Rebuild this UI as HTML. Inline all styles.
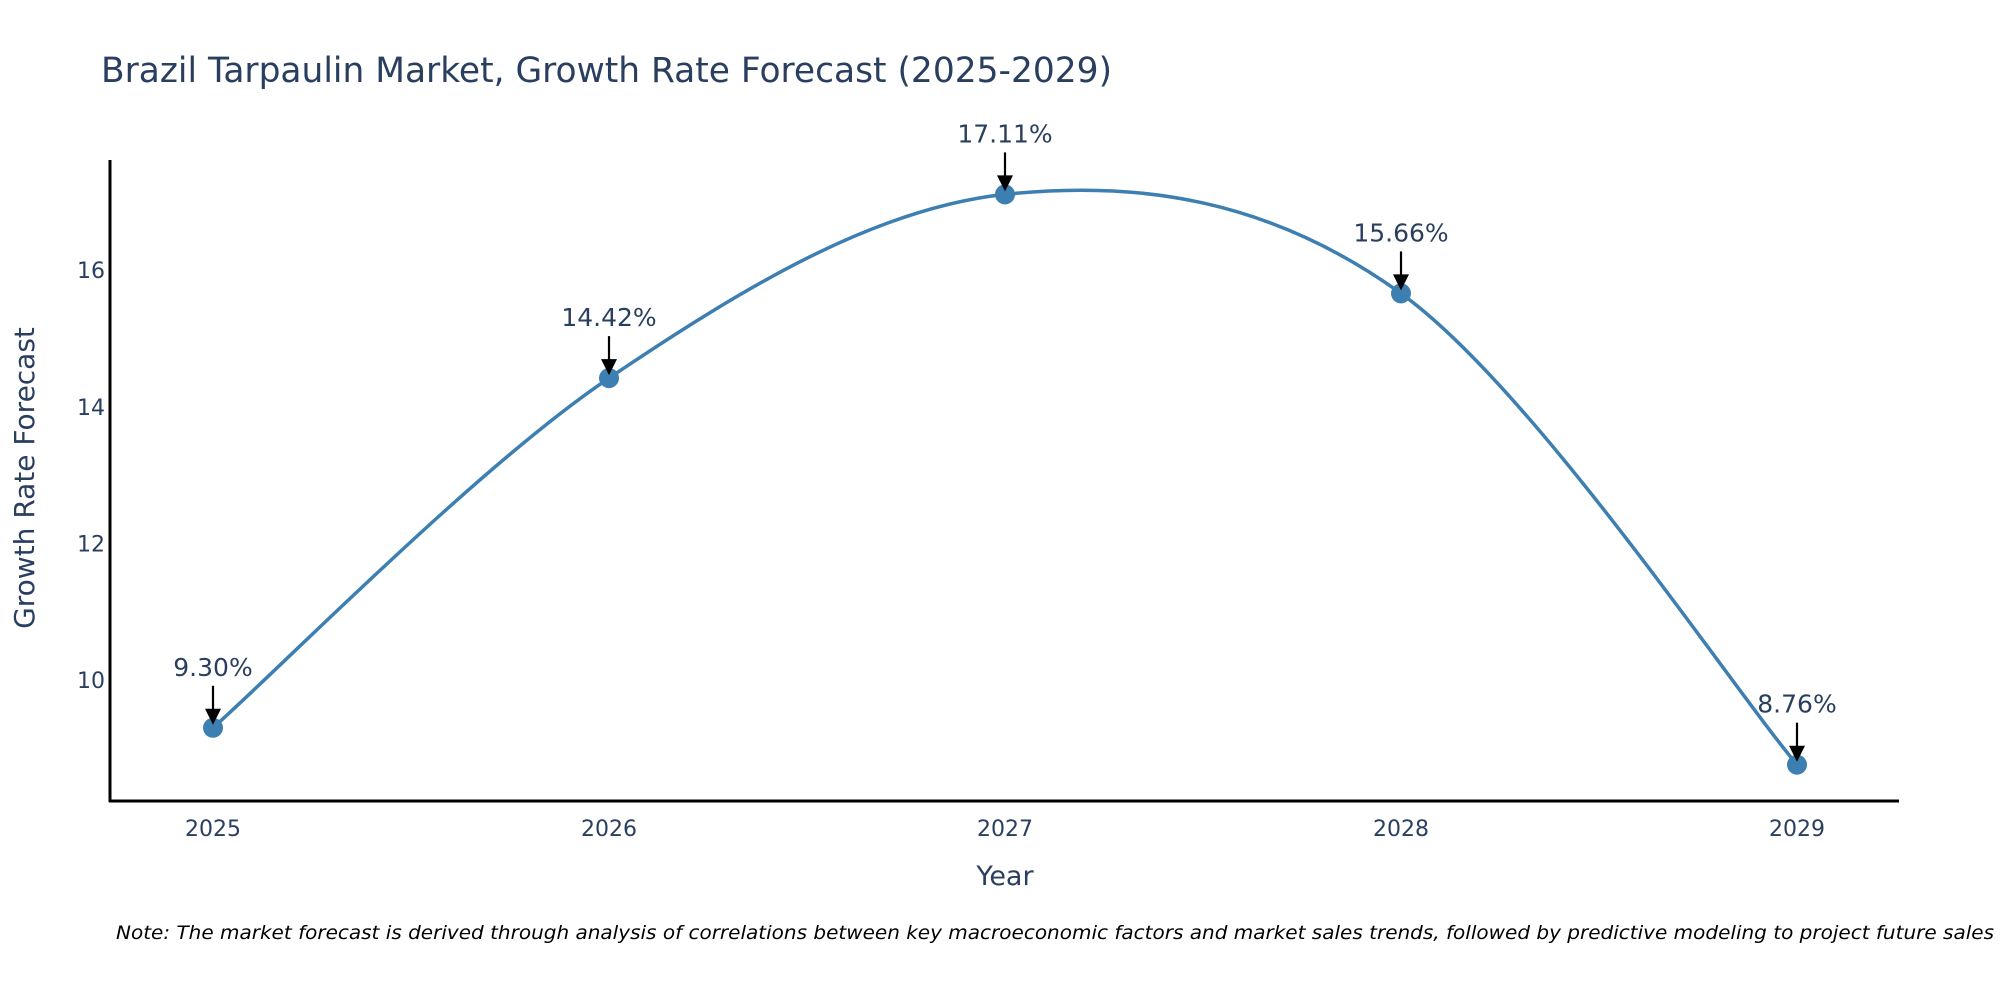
<!DOCTYPE html>
<html><head><meta charset="utf-8"><style>
html,body{margin:0;padding:0;background:#fff;}
svg{display:block;font-family:"DejaVu Sans","Liberation Sans",sans-serif;}
</style></head><body>
<svg id="chart" width="2000" height="1000" viewBox="0 0 2000 1000">
<text x="101" y="82" font-size="34.5" fill="#2a3f5f" textLength="1011" lengthAdjust="spacingAndGlyphs">Brazil Tarpaulin Market, Growth Rate Forecast (2025-2029)</text>
<g id="yticks"></g>
<g id="xticks"></g>
<path id="line" fill="none" stroke="#3d7fb1" stroke-width="3.5"></path>
<g id="points"></g>
<g id="annos"></g>
<line x1="110" y1="160" x2="110" y2="802" stroke="#000" stroke-width="3"/>
<line x1="109" y1="801" x2="1899" y2="801" stroke="#000" stroke-width="3"/>
<text transform="translate(34,478) rotate(-90)" text-anchor="middle" font-size="28" fill="#2a3f5f">Growth Rate Forecast</text>
<text x="1005" y="885" text-anchor="middle" font-size="27" fill="#2a3f5f">Year</text>
<text x="116" y="939" font-size="19" font-style="italic" fill="#000" textLength="1878" lengthAdjust="spacingAndGlyphs">Note: The market forecast is derived through analysis of correlations between key macroeconomic factors and market sales trends, followed by predictive modeling to project future sales</text>
</svg>
<script>
const years = [2025, 2026, 2027, 2028, 2029];
const values = [9.30, 14.42, 17.11, 15.66, 8.76];
const labels = ["9.30%", "14.42%", "17.11%", "15.66%", "8.76%"];
const yTicks = [10, 12, 14, 16];

const NS = "http://www.w3.org/2000/svg";
function xs(v){ return 213 + (v - 2025) * 396; }
function ys(v){ return 680 - (v - 10) * 68.3; }
function mk(tag, attrs){ const e = document.createElementNS(NS, tag); for (const k in attrs) e.setAttribute(k, attrs[k]); return e; }

const yt = document.getElementById('yticks');
yTicks.forEach(t => {
  const e = mk('text', {x: 105, y: ys(t) + 8, 'text-anchor': 'end', 'font-size': 22, fill: '#2a3f5f'});
  
  
  e.textContent = t; yt.appendChild(e);
});
const xt = document.getElementById('xticks');
years.forEach(y => {
  const e = mk('text', {x: xs(y), y: 836, 'text-anchor': 'middle', 'font-size': 22, fill: '#2a3f5f'});
  
  
  e.textContent = y; xt.appendChild(e);
});

const pts = years.map((y, i) => [xs(y), ys(values[i])]);
let d = 'M' + pts[0][0] + ',' + pts[0][1];
for (let i = 0; i < pts.length - 1; i++) {
  const p0 = pts[Math.max(0, i - 1)], p1 = pts[i], p2 = pts[i + 1], p3 = pts[Math.min(pts.length - 1, i + 2)];
  const t = 1 / 6;
  const c1 = [p1[0] + (p2[0] - p0[0]) * t, p1[1] + (p2[1] - p0[1]) * t];
  const c2 = [p2[0] - (p3[0] - p1[0]) * t, p2[1] - (p3[1] - p1[1]) * t];
  d += ' C' + c1[0] + ',' + c1[1] + ' ' + c2[0] + ',' + c2[1] + ' ' + p2[0] + ',' + p2[1];
}
document.getElementById('line').setAttribute('d', d);

const pg = document.getElementById('points');
const ag = document.getElementById('annos');
pts.forEach((p, i) => {
  const c = mk('circle', {cx: p[0], cy: p[1], r: 10, fill: '#3d7fb1'});
  
  
  pg.appendChild(c);
  const l = mk('line', {x1: p[0], y1: p[1] - 42, x2: p[0], y2: p[1] - 16, stroke: '#000', 'stroke-width': 2.2});
  
  
  ag.appendChild(l);
  const a = mk('polygon', {points: (p[0]-8)+','+(p[1]-19)+' '+(p[0]+8)+','+(p[1]-19)+' '+p[0]+','+(p[1]-3), fill: '#000'});
  
  
  ag.appendChild(a);
  const t = mk('text', {x: p[0], y: p[1] - 52, 'text-anchor': 'middle', 'font-size': 25, fill: '#2a3f5f'});
  
  
  t.textContent = labels[i]; ag.appendChild(t);
});
</script>
</body></html>
